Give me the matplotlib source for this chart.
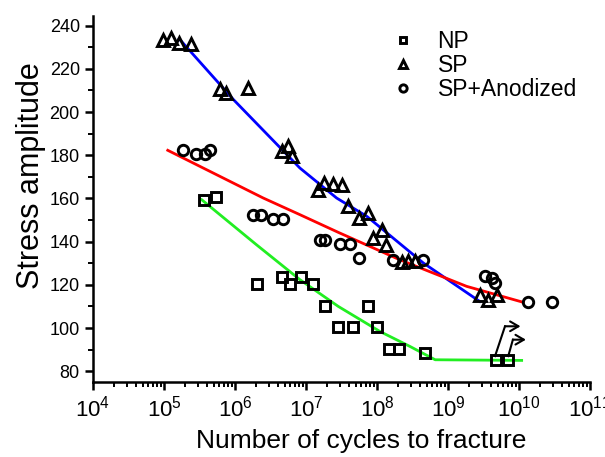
import numpy as np
import matplotlib
matplotlib.use('Agg')
import matplotlib.pyplot as plt
from matplotlib.ticker import MultipleLocator, LogLocator, NullFormatter

plt.rcParams['font.family'] = ['Liberation Sans', 'DejaVu Sans']
plt.rcParams['mathtext.fontset'] = 'custom'
plt.rcParams['mathtext.rm'] = 'Liberation Sans'

# measured points (cycles, stress)
np_n = [3.65e5, 5.35e5, 2.06e6, 4.55e6, 5.96e6, 8.6e6, 1.27e7, 1.85e7, 2.85e7,
        4.6e7, 7.5e7, 1.0e8, 1.49e8, 2.06e8, 4.7e8, 4.7e9, 7.1e9]
np_s = [159.4, 160.5, 120.4, 123.4, 120.4, 123.4, 120.4, 110.3, 100.3,
        100.3, 110.3, 100.3, 90.3, 90.3, 88.4, 85.0, 85.0]

sp_n = [9.8e4, 1.26e5, 1.64e5, 2.4e5, 6.15e5, 7.5e5, 1.5e6, 4.6e6, 5.6e6, 6.3e6,
        1.49e7, 1.8e7, 2.4e7, 3.2e7, 3.9e7, 5.5e7, 7.5e7, 8.7e7, 1.17e8, 1.36e8,
        2.23e8, 2.76e8, 3.4e8, 2.8e9, 3.7e9, 4.85e9]
sp_s = [233.5, 234.5, 232.0, 231.5, 210.7, 208.9, 211.2, 181.8, 184.1, 179.5,
        164.1, 167.2, 166.8, 166.4, 156.3, 151.0, 153.3, 141.7, 145.5, 138.6,
        130.5, 131.0, 131.0, 115.4, 113.1, 115.4]

an_n = [1.83e5, 2.8e5, 3.8e5, 4.5e5, 1.77e6, 2.3e6, 3.46e6, 4.8e6, 1.57e7, 1.85e7,
        3.0e7, 4.2e7, 5.6e7, 1.7e8, 4.5e8, 3.3e9, 4.1e9, 4.6e9, 1.33e10, 2.9e10]
an_s = [182.6, 180.7, 180.7, 182.3, 152.5, 152.5, 150.5, 150.5, 140.6, 140.6,
        139.1, 139.1, 132.4, 131.6, 131.6, 124.2, 123.2, 120.9, 111.9, 111.9]

# fitted curves
blue_n = [1.64e5, 9.5e5, 8.2e6, 2.7e7, 7.2e7, 4.5e8, 2.8e9]
blue_s = [233.9, 205.8, 174.1, 160.2, 151.7, 130.1, 112.3]
red_n = [1.13e5, 2.5e6, 8.2e6, 2.85e7, 2.1e8, 1.83e9, 1.15e10]
red_s = [182.3, 160.2, 152.5, 144.3, 131.6, 119.3, 111.9]
green_n = [3.4e5, 2.0e6, 8.2e6, 2.85e7, 1.1e8, 2.9e8, 6.6e8, 1.09e10]
green_s = [159.4, 138.6, 122.4, 110.0, 98.4, 91.5, 85.3, 85.0]

# run-out arrows: start, bend, tip
arrow_paths = [
    [(4.6e9, 87.0), (6.35e9, 100.8), (1.05e10, 100.8)],
    [(7.06e9, 87.0), (8.2e9, 94.6), (1.25e10, 94.6)],
]

fig = plt.figure(figsize=(6.05, 4.57), dpi=100)
ax = fig.add_axes([93 / 605, 1 - 382 / 457, 497 / 605, 366 / 457])

ax.plot(blue_n, blue_s, color='#0000ff', lw=2.0, zorder=2)
ax.plot(red_n, red_s, color='#ff0000', lw=2.0, zorder=2)
ax.plot(green_n, green_s, color='#22ee22', lw=2.0, zorder=2)

mk = dict(ls='none', mfc='none', mec='black', mew=2.1, zorder=3)
ax.plot(np_n, np_s, marker='s', ms=7, label='NP', **mk)
ax.plot(sp_n, sp_s, marker='^', ms=8.5, label='SP', **mk)
ax.plot(an_n, an_s, marker='o', ms=7.5, label='SP+Anodized', **mk)

for path in arrow_paths:
    (x0, y0), (x1, y1), (x2, y2) = path
    ax.plot([x0, x1], [y0, y1], color='black', lw=1.5, zorder=3)
    ax.annotate('', xy=(x2, y2), xytext=(x1, y1),
                arrowprops=dict(arrowstyle='->,head_length=0.6,head_width=0.35',
                                color='black', lw=1.5, shrinkA=0, shrinkB=0))

ax.set_xscale('log')
ax.set_xlim(1e4, 1e11)
ax.set_ylim(75, 244.5)
ax.xaxis.set_major_locator(LogLocator(base=10, numticks=20))
ax.xaxis.set_minor_locator(LogLocator(base=10, subs=np.arange(2, 10), numticks=100))
ax.xaxis.set_minor_formatter(NullFormatter())
ax.yaxis.set_major_locator(MultipleLocator(20))
ax.yaxis.set_minor_locator(MultipleLocator(10))

for side in ['top', 'right']:
    ax.spines[side].set_visible(False)
for side in ['left', 'bottom']:
    ax.spines[side].set_linewidth(1.8)
ax.tick_params(which='major', direction='out', length=6, width=1.8, labelsize=13)
ax.tick_params(axis='x', which='major', labelsize=16, pad=4)
ax.tick_params(which='minor', direction='out', length=3.5, width=1.4)

ax.set_xlabel('Number of cycles to fracture', fontsize=19)
ax.set_ylabel('Stress amplitude', fontsize=22)
ax.xaxis.set_label_coords(0.54, -0.128)
ax.yaxis.set_label_coords(-0.095, 0.565)

ax.legend(loc='upper left', bbox_to_anchor=(0.555, 1.018), frameon=False, fontsize=16.5,
          markerscale=0.7, handlelength=1.2, handletextpad=0.9, labelspacing=0.05)

fig.savefig('out.png', dpi=100)
